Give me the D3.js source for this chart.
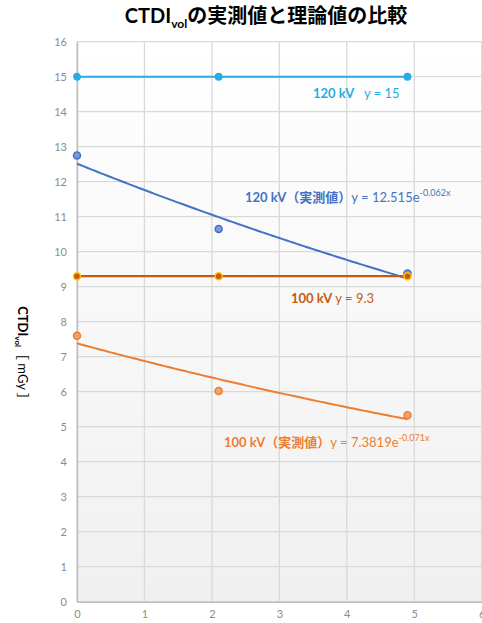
<!DOCTYPE html>
<html>
<head>
<meta charset="utf-8">
<script src="https://cdn.jsdelivr.net/npm/d3@7"></script>
<style>
  body { margin: 0; background: #fff; }
  text { font-family: Lato, "Noto Sans CJK JP", sans-serif; }
</style>
</head>
<body>
<div id="chart-area"></div>
<script>
// data
var distances = [0, 2.1, 4.9];
var theory120 = [15, 15, 15];
var measured120 = [12.75, 10.65, 9.38];
var theory100 = [9.3, 9.3, 9.3];
var measured100 = [7.6, 6.02, 5.33];
// trendline coefficients shown on chart: y = a * e^(b x)
var trend120 = { a: 12.515, b: -0.062 };
var trend100 = { a: 7.3819, b: -0.071 };
var xTicks = [0, 1, 2, 3, 4, 5, 6];
var yTicks = d3.range(0, 17);

var W = 482, H = 623;
var margin = { top: 41.7, right: 0.3, bottom: 21.3, left: 77 };
var width = W - margin.left - margin.right;
var height = H - margin.top - margin.bottom;

var svg = d3.select('#chart-area')
    .append('svg')
    .attr('width', W)
    .attr('height', H);

var defs = svg.append('defs');
var grad = defs.append('linearGradient')
    .attr('id', 'bg').attr('x1', 0).attr('y1', 0).attr('x2', 0).attr('y2', 1);
grad.append('stop').attr('offset', '0%').attr('stop-color', '#ffffff');
grad.append('stop').attr('offset', '100%').attr('stop-color', '#f0f0f0');

var graph = svg.append('g')
    .attr('transform', 'translate(' + margin.left + ',' + margin.top + ')');

var x = d3.scaleLinear().domain([0, 6]).range([0, width]);
var y = d3.scaleLinear().domain([0, 16]).range([height, 0]);

graph.append('rect')
    .attr('width', width)
    .attr('height', height)
    .attr('fill', 'url(#bg)');

// grid
graph.selectAll('.hgrid')
    .data(yTicks)
    .enter().append('line')
    .attr('x1', 0).attr('x2', width)
    .attr('y1', function (d) { return y(d); })
    .attr('y2', function (d) { return y(d); })
    .attr('stroke', '#d9d9d9')
    .attr('stroke-width', 1.3);

graph.selectAll('.vgrid')
    .data(xTicks)
    .enter().append('line')
    .attr('y1', 0).attr('y2', height)
    .attr('x1', function (d) { return x(d); })
    .attr('x2', function (d) { return x(d); })
    .attr('stroke', '#d9d9d9')
    .attr('stroke-width', 1.3);

// axes
var xAxis = d3.axisBottom(x).tickValues(xTicks).tickFormat(d3.format('d')).tickSize(0).tickPadding(9);
graph.append('g')
    .attr('transform', 'translate(0,' + height + ')')
    .call(xAxis)
    .call(function (g) {
        g.select('.domain').attr('stroke', '#bfbfbf').attr('stroke-width', 1.5);
        g.selectAll('text').attr('fill', '#8c8c8c').attr('font-size', 11);
    });

var yAxis = d3.axisLeft(y).tickValues(yTicks).tickFormat(d3.format('d')).tickSize(0).tickPadding(10);
graph.append('g')
    .call(yAxis)
    .call(function (g) {
        g.select('.domain').attr('stroke', '#bfbfbf').attr('stroke-width', 1.5);
        g.selectAll('text').attr('fill', '#8c8c8c').attr('font-size', 11);
    });

var line = d3.line()
    .x(function (d) { return x(d[0]); })
    .y(function (d) { return y(d[1]); });

function trendPoints(t) {
    return d3.range(0, 4.9001, 0.05).map(function (v) {
        return [v, t.a * Math.exp(t.b * v)];
    });
}

// trendlines
graph.append('path')
    .attr('d', line(trendPoints(trend120)))
    .attr('fill', 'none').attr('stroke', '#4472c4').attr('stroke-width', 2);
graph.append('path')
    .attr('d', line(trendPoints(trend100)))
    .attr('fill', 'none').attr('stroke', '#ed7d31').attr('stroke-width', 2);

// theory lines
graph.append('path')
    .attr('d', line(distances.map(function (d, i) { return [d, theory120[i]]; })))
    .attr('fill', 'none').attr('stroke', '#29abe2').attr('stroke-width', 2);
graph.append('path')
    .attr('d', line(distances.map(function (d, i) { return [d, theory100[i]]; })))
    .attr('fill', 'none').attr('stroke', '#c55a11').attr('stroke-width', 2.2);

function markers(vals, fill, stroke, r) {
    graph.append('g').selectAll('circle')
        .data(vals)
        .enter().append('circle')
        .attr('cx', function (d, i) { return x(distances[i]); })
        .attr('cy', function (d) { return y(d); })
        .attr('r', r)
        .attr('fill', fill)
        .attr('stroke', stroke)
        .attr('stroke-width', 1.5);
}
markers(measured120, '#7b98d8', '#4472c4', 3.5);
markers(theory120, '#29abe2', '#29abe2', 3.2);
markers(measured100, '#f3a26f', '#ed7d31', 3.5);
markers(theory100, '#c55a11', '#ffc000', 3.5);

// labels
function label(xp, yp, color, boldText, eq, sup) {
    var t = svg.append('text')
        .attr('x', xp).attr('y', yp)
        .attr('fill', color)
        .attr('font-size', 13);
    t.append('tspan').attr('font-weight', 'bold').text(boldText);
    t.append('tspan').text(eq);
    if (sup) {
        t.append('tspan').attr('font-size', 9).attr('dy', -6).text(sup);
    }
}
label(313, 98, '#29abe2', '120 kV', '\u00a0\u00a0\u00a0y = 15');
label(245, 202, '#4472c4', '120 kV（実測値）', 'y = 12.515e', '-0.062x');
label(291, 303, '#c55a11', '100 kV', '\u00a0y = 9.3');
label(224, 447, '#ed7d31', '100 kV（実測値）', 'y = 7.3819e', '-0.071x');

// title
var title = svg.append('text')
    .attr('x', 266).attr('y', 23)
    .attr('text-anchor', 'middle')
    .attr('font-size', 20)
    .attr('font-weight', 'bold')
    .attr('fill', '#000');
title.append('tspan').text('CTDI');
title.append('tspan').attr('font-size', 12).attr('dy', 5).text('vol');
title.append('tspan').attr('dy', -5).text('の実測値と理論値の比較');

// y axis title
var yt = svg.append('text')
    .attr('transform', 'translate(18,356) rotate(90)')
    .attr('text-anchor', 'middle')
    .attr('font-size', 13)
    .attr('font-weight', 'bold')
    .attr('fill', '#000');
yt.append('tspan').text('CTDI');
yt.append('tspan').attr('font-size', 8).attr('dy', 3).text('vol');
yt.append('tspan').attr('dy', -3).attr('font-weight', 'normal').text('［ mGy ］');
</script>
</body>
</html>
